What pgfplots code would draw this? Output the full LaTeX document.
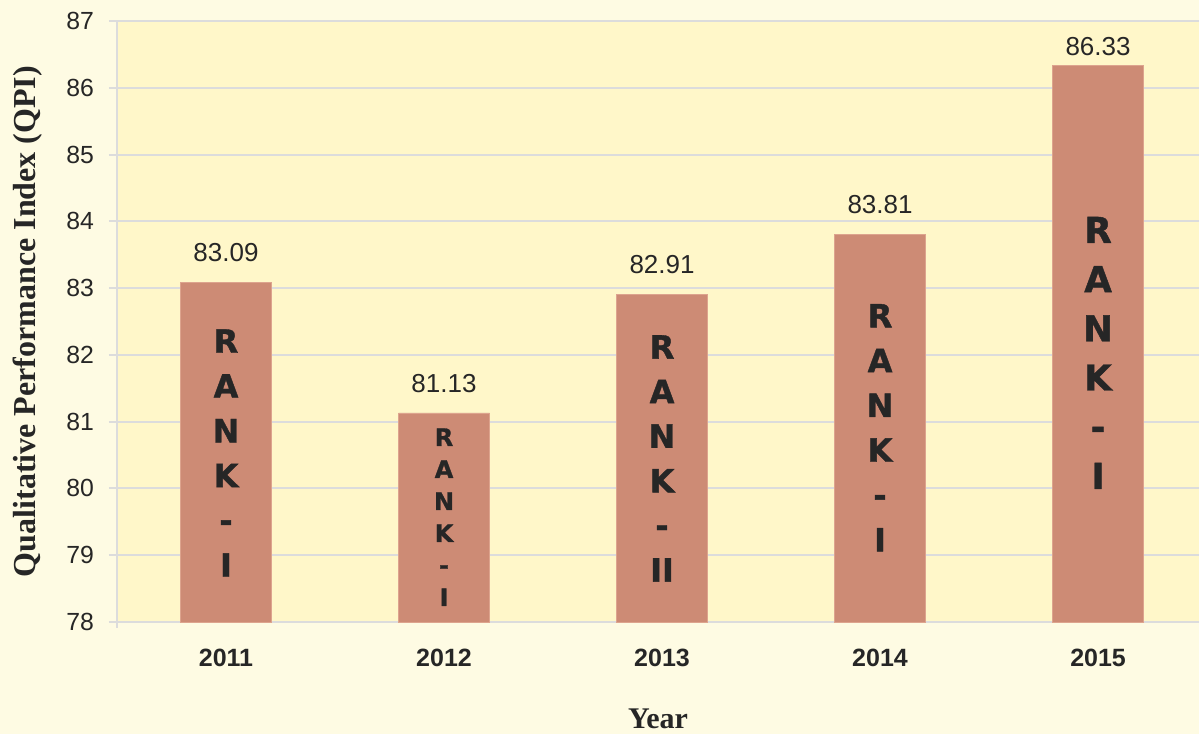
\documentclass[border=0pt]{standalone}
\usepackage{fontspec}
\setmainfont{Liberation Sans}
\newfontfamily\serifb{Liberation Serif}
\newfontfamily\rankf{DejaVu Sans}[BoldFeatures={FakeBold=1.2}]
\usepackage{pgfplots}
\pgfplotsset{compat=1.18}
\definecolor{outerbg}{HTML}{FEFBE3}
\definecolor{plotbg}{HTML}{FFF7C9}
\definecolor{barc}{HTML}{CD8B75}
\definecolor{baredge}{HTML}{DDA48E}
\definecolor{gridc}{HTML}{DCDCDC}
\definecolor{txt}{HTML}{262626}
\begin{document}
\begin{tikzpicture}
\useasboundingbox (-58.5pt,-56pt) rectangle (541pt,311pt);
\fill[outerbg] (-58.5pt,-56pt) rectangle (541pt,311pt);
\begin{axis}[
  at={(0,0)}, anchor=south west,
  scale only axis, width=541pt, height=300.5pt,
  xmin=-0.5, xmax=4.463, ymin=78, ymax=87,
  axis background/.style={fill=plotbg},
  axis x line*=bottom, axis y line*=left,
  axis line style={draw=gridc, line width=1pt, -},
  ymajorgrids, grid style={draw=gridc, line width=1pt},
  ytick={78,79,80,81,82,83,84,85,86,87},
  xtick={0,1,2,3,4},
  xticklabels={2011,2012,2013,2014,2015},
  major x tick style={draw=none},
  major y tick style={draw=gridc, line width=1pt},
  tick align=outside, major tick length=4pt,
  /pgf/number format/assume math mode=true,
  yticklabel style={font=\fontsize{12.4}{14}\selectfont, text=txt, anchor=east, xshift=-4pt},
  xticklabel style={font=\fontsize{12.5}{15}\selectfont\bfseries, text=txt, anchor=center, yshift=-14pt},
  clip=false,
]
\addplot[ybar, bar width=45.5pt, bar shift=0pt, fill=barc, draw=baredge, line width=0.4pt,
  nodes near coords={\pgfmathprintnumber[fixed,fixed zerofill,precision=2,assume math mode=true]{\pgfplotspointmeta}},
  every node near coord/.append style={anchor=base, yshift=10.35pt, font=\fontsize{13}{15}\selectfont, text=txt}]
  coordinates {(0,83.09) (1,81.13) (2,82.91) (3,83.81)};
\addplot[ybar, bar width=45.5pt, bar shift=0pt, fill=barc, draw=baredge, line width=0.4pt,
  nodes near coords={\pgfmathprintnumber[fixed,fixed zerofill,precision=2,assume math mode=true]{\pgfplotspointmeta}},
  every node near coord/.append style={anchor=base, yshift=5.35pt, font=\fontsize{13}{15}\selectfont, text=txt}]
  coordinates {(4,86.33)};
\node[font=\rankf\bfseries\fontsize{16}{22.4}\selectfont, align=center, text=txt] at (axis cs:0,80.53) {R\\A\\N\\K\\-\\I};
\node[font=\rankf\bfseries\fontsize{12}{16}\selectfont, align=center, text=txt] at (axis cs:1,79.57) {R\\A\\N\\K\\-\\I};
\node[font=\rankf\bfseries\fontsize{16}{22.3}\selectfont, align=center, text=txt] at (axis cs:2,80.45) {R\\A\\N\\K\\-\\II};
\node[font=\rankf\bfseries\fontsize{16}{22.4}\selectfont, align=center, text=txt] at (axis cs:3,80.91) {R\\A\\N\\K\\-\\I};
\node[font=\rankf\bfseries\fontsize{17.8}{24.6}\selectfont, align=center, text=txt] at (axis cs:4,82.03) {R\\A\\N\\K\\-\\I};
\end{axis}
\draw[gridc, line width=1pt] (0,0) -- (0,-3pt);
\node[rotate=90, font=\serifb\bfseries\fontsize{16}{19}\selectfont, text=txt] at (-44.5pt,150.25pt) {Qualitative Performance Index (QPI)};
\node[font=\serifb\bfseries\fontsize{15}{18}\selectfont, text=txt] at (270.5pt,-48.5pt) {Year};
\end{tikzpicture}
\end{document}
